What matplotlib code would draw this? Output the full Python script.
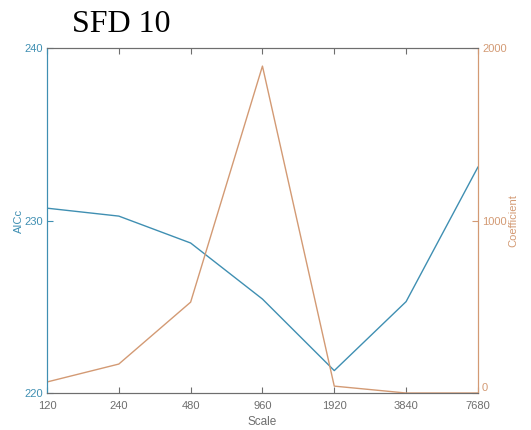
import matplotlib.pyplot as plt
import numpy as np

scales = [120, 240, 480, 960, 1920, 3840, 7680]
aicc = [230.72, 230.26, 228.7, 225.45, 221.3, 225.3, 233.1]
coef = [64, 168, 527, 1896, 40, 0, 0]

blue = '#3f8fb2'
orange = '#d39a74'
gray = '#6e6e6e'

plt.rcParams['font.family'] = ['Liberation Sans', 'DejaVu Sans']

fig = plt.figure(figsize=(5.31, 4.30), dpi=100)
ax = fig.add_axes([0.0885, 0.086, 0.8115, 0.802])
pos = np.arange(len(scales))

ax.plot(pos, aicc, color=blue, lw=1.0)
ax.set_xlim(0, len(scales) - 1)
ax.set_ylim(220, 240)
ax.set_yticks([220, 230, 240])
ax.set_xticks(pos)
ax.set_xticklabels([str(s) for s in scales])
ax.set_ylabel('AICc', color=blue, fontsize=8, labelpad=0)
ax.set_xlabel('Scale', color=gray, fontsize=8.5, labelpad=3)
ax.tick_params(axis='y', colors=blue, labelsize=8, direction='in', length=4, pad=3)
ax.tick_params(axis='x', colors=gray, labelsize=8, direction='in', length=4, pad=6,
               top=True)

ax2 = ax.twinx()
ax2.plot(pos, coef, color=orange, lw=1.0)
ax2.set_ylim(0, 2000)
ax2.set_yticks([0, 1000, 2000])
ax2.set_ylabel('Coefficient', color=orange, fontsize=8, labelpad=1)
ax2.tick_params(axis='y', colors=orange, labelsize=8, direction='in', length=4, pad=3)
ax2.get_yticklabels()[0].set_va('bottom')

for a in (ax, ax2):
    a.spines['left'].set_color(blue)
    a.spines['right'].set_color(orange)
    a.spines['top'].set_color(gray)
    a.spines['bottom'].set_color(gray)
    for s in a.spines.values():
        s.set_linewidth(0.8)

fig.text(0.136, 0.925, 'SFD 10', family='Liberation Serif', fontsize=23,
         color='black', ha='left', va='baseline')

fig.savefig('out.png', dpi=100)
